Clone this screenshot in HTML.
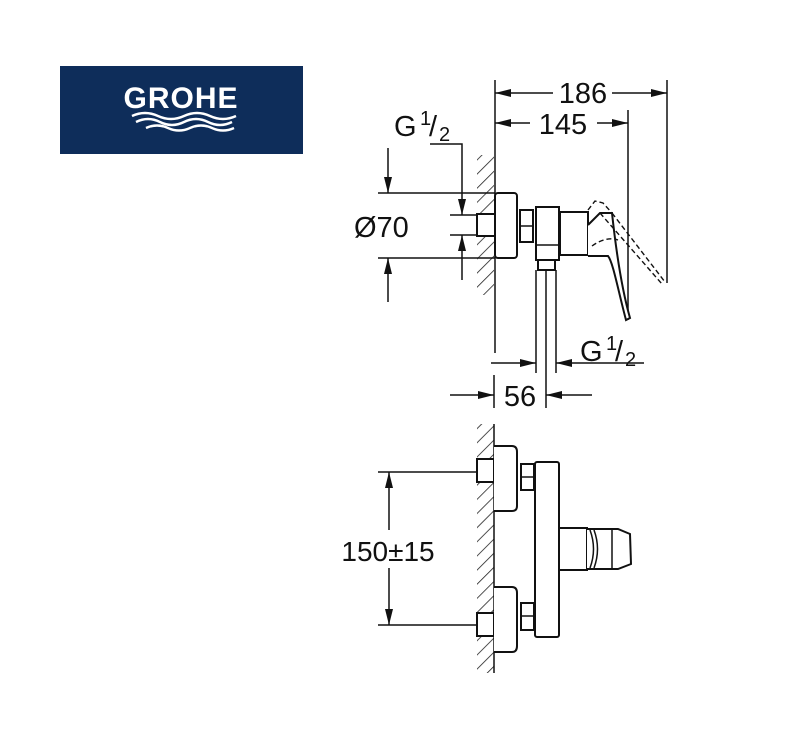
<!DOCTYPE html>
<html><head><meta charset="utf-8"><style>
html,body{margin:0;padding:0;background:#fff;}
svg{display:block;}
text{font-family:"Liberation Sans",sans-serif;fill:#111;}
</style></head><body>
<svg width="797" height="731" viewBox="0 0 797 731" xmlns="http://www.w3.org/2000/svg">
<defs>
<pattern id="h" width="10" height="10" patternUnits="userSpaceOnUse" patternTransform="rotate(45)">
<line x1="0" y1="0" x2="0" y2="10" stroke="#222" stroke-width="1.6"/>
</pattern>
<marker id="a" viewBox="0 0 16 8" refX="16" refY="4" markerWidth="16" markerHeight="8" markerUnits="userSpaceOnUse" orient="auto"><path d="M0,0L16,4L0,8z" fill="#111"/></marker>
</defs>
<!-- logo -->
<rect x="60" y="66" width="243" height="88" fill="#0e2d5a"/>
<text x="181" y="108" font-size="30" font-weight="bold" text-anchor="middle" style="fill:#fff" letter-spacing="1">GROHE</text>
<g fill="none" stroke="#fff" stroke-width="2.4">
<path d="M132,116 q13,-6 26,0 t26,0 t26,0 t26,0"/>
<path d="M136,122 q12,-6 24,0 t24,0 t24,0 t24,0"/>
<path d="M146,128 q11,-5 22,0 t22,0 t22,0 t22,0"/>
</g>

<g stroke="#111" stroke-width="1.5" fill="none">
<!-- top view -->
<rect x="477" y="155" width="17" height="140" fill="url(#h)" stroke="none"/>
<line x1="495" y1="80" x2="495" y2="353"/>
<line x1="667" y1="80" x2="667" y2="283"/>
<line x1="628" y1="110" x2="628" y2="320"/>
<line x1="553" y1="93" x2="495" y2="93" marker-end="url(#a)"/>
<line x1="612" y1="93" x2="667" y2="93" marker-end="url(#a)"/>
<line x1="530" y1="123" x2="495" y2="123" marker-end="url(#a)"/>
<line x1="597" y1="123" x2="628" y2="123" marker-end="url(#a)"/>
<!-- Ø70 -->
<line x1="378" y1="193" x2="495" y2="193"/>
<line x1="378" y1="258" x2="495" y2="258"/>
<line x1="388" y1="148" x2="388" y2="193" marker-end="url(#a)"/>
<line x1="388" y1="302" x2="388" y2="258" marker-end="url(#a)"/>
<!-- G1/2 left -->
<polyline points="430,144 462,144 462,215" marker-end="url(#a)"/>
<line x1="462" y1="280" x2="462" y2="235" marker-end="url(#a)"/>
<line x1="450" y1="215" x2="495" y2="215"/>
<line x1="450" y1="235" x2="495" y2="235"/>
<rect x="477" y="214" width="18" height="22" fill="#fff" stroke-width="2"/>
<rect x="495" y="193" width="22" height="65" rx="3" fill="#fff" stroke-width="2"/>
<rect x="520" y="210" width="13" height="32" fill="#fff" stroke-width="2"/>
<line x1="520" y1="226" x2="533" y2="226"/>
<rect x="536" y="207" width="23" height="53" fill="#fff" stroke-width="2"/>
<line x1="536" y1="245" x2="559" y2="245"/>
<rect x="538" y="260" width="17" height="10" fill="#fff" stroke-width="2"/>
<rect x="560" y="212" width="28" height="43" fill="#fff" stroke-width="2"/>
<path d="M588,225 L600,213 L612,213 C616,250 622,290 630,318 L626,320 C618,290 613,262 608,256 L588,256" stroke-width="2" fill="#fff"/>
<path d="M588,210 L595,201 L603,203 L612,213 M612,213 L665,282 M600,213 L662,284 M592,246 C600,240 610,237 618,240" stroke-dasharray="5,3" stroke-width="1.4"/>
<!-- bottom verticals -->
<line x1="536" y1="270" x2="536" y2="373"/>
<line x1="546" y1="270" x2="546" y2="408"/>
<line x1="556" y1="270" x2="556" y2="373"/>
<line x1="494" y1="375" x2="494" y2="408"/>
<line x1="491" y1="363" x2="536" y2="363" marker-end="url(#a)"/>
<line x1="644" y1="363" x2="556" y2="363" marker-end="url(#a)"/>
<line x1="450" y1="395" x2="494" y2="395" marker-end="url(#a)"/>
<line x1="592" y1="395" x2="546" y2="395" marker-end="url(#a)"/>

<!-- front view -->
<rect x="477" y="424" width="17" height="249" fill="url(#h)" stroke="none"/>
<line x1="494" y1="424" x2="494" y2="673"/>
<line x1="378" y1="472" x2="477" y2="472"/>
<line x1="378" y1="625" x2="477" y2="625"/>
<line x1="389" y1="530" x2="389" y2="472" marker-end="url(#a)"/>
<line x1="389" y1="568" x2="389" y2="625" marker-end="url(#a)"/>
<rect x="477" y="459" width="17" height="23" fill="#fff" stroke-width="2"/>
<rect x="477" y="613" width="17" height="23" fill="#fff" stroke-width="2"/>
<path d="M494,446 L512,446 Q517,446 517,452 L517,506 Q517,511 512,511 L494,511" fill="#fff" stroke-width="2"/>
<path d="M494,587 L512,587 Q517,587 517,593 L517,646 Q517,652 512,652 L494,652" fill="#fff" stroke-width="2"/>
<rect x="521" y="464" width="13" height="26" fill="#fff" stroke-width="2"/>
<line x1="521" y1="477" x2="534" y2="477"/>
<rect x="521" y="603" width="13" height="27" fill="#fff" stroke-width="2"/>
<line x1="521" y1="616" x2="534" y2="616"/>
<rect x="535" y="462" width="24" height="175" rx="2" fill="#fff" stroke-width="2"/>
<rect x="559" y="528" width="28" height="42" fill="#fff" stroke-width="2"/>
<path d="M587,529 L618,529 L630,534 L631,564 L618,569 L587,569" fill="#fff" stroke-width="2"/>
<path d="M590,530 Q597,549 590,568 M594,530 Q601,549 594,568 M612,530 L612,568"/>
</g>
<g font-size="29">
<text x="583" y="103" text-anchor="middle">186</text>
<text x="563" y="134" text-anchor="middle">145</text>
<text x="354" y="237">Ø70</text>
<text x="394" y="136">G</text>
<text x="420" y="125" font-size="20">1</text>
<text x="429" y="136">/</text>
<text x="439" y="141" font-size="20">2</text>
<text x="580" y="361">G</text>
<text x="606" y="350" font-size="20">1</text>
<text x="615" y="361">/</text>
<text x="625" y="366" font-size="20">2</text>
<text x="520" y="406" text-anchor="middle">56</text>
<text x="388" y="561" text-anchor="middle" font-size="28">150±15</text>
</g>
</svg>
</body></html>
